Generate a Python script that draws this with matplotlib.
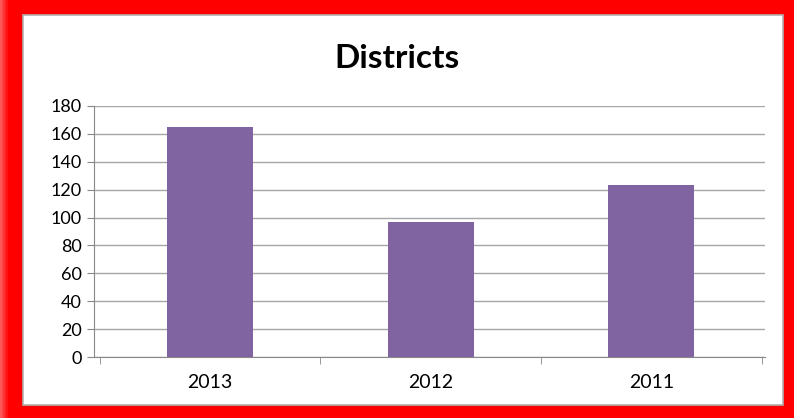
import matplotlib
matplotlib.use("Agg")
import matplotlib.pyplot as plt
from matplotlib.patches import Rectangle
import numpy as np

categories = ["2013", "2012", "2011"]
values = [165, 97, 123]
yticks = [0, 20, 40, 60, 80, 100, 120, 140, 160, 180]

plt.rcParams['font.family'] = ['Lato', 'DejaVu Sans']

fig = plt.figure(figsize=(7.94, 4.18), dpi=100)
fig.patch.set_facecolor('#ff0000')

# soft glow on left edge
for i, a in enumerate(np.linspace(0.0, 0.35, 6)):
    fig.patches.append(Rectangle((0 + i*0.002, 0), 0.002, 1, transform=fig.transFigure,
                                 facecolor='white', alpha=0.35 - a, edgecolor='none', zorder=-2))

# white inner panel
fig.patches.append(Rectangle((23/794, 1-405/418), (783-23)/794, (405-15)/418,
                             transform=fig.transFigure, facecolor='white',
                             edgecolor='#b0b0b0', linewidth=1.2, zorder=-1))

ax = fig.add_axes([94/794, 1-357/418, (765-94)/794, (357-106)/418])
ax.set_zorder(2)
ax.set_facecolor('none')
x = np.arange(len(categories))
ax.bar(x, values, width=0.39, color='#8064A2', zorder=3)
ax.set_xlim(-0.525, len(categories)-0.485)
ax.set_ylim(0, 180)
ax.set_yticks(yticks)
ax.set_yticklabels([str(t) for t in yticks], fontsize=13)
ax.set_xticks(x)
ax.set_xticklabels(categories, fontsize=14)
ax.set_xticks(np.arange(-0.5, len(categories)), minor=True)
ax.tick_params(axis='x', which='major', length=0, pad=12)
ax.tick_params(axis='x', which='minor', length=5, color='#888888', direction='out')
ax.tick_params(axis='y', length=5, color='#888888', pad=4)
ax.grid(axis='y', color='#a6a6a6', linewidth=1.0, zorder=0)
ax.set_axisbelow(True)
for s in ['top', 'right']:
    ax.spines[s].set_visible(False)
ax.spines['left'].set_color('#888888')
ax.spines['bottom'].set_color('#888888')

fig.text(0.5, 1-58/418, "Districts", ha='center', va='center', fontsize=24, fontweight='bold')

fig.savefig("out.png", dpi=100, facecolor=fig.get_facecolor())
